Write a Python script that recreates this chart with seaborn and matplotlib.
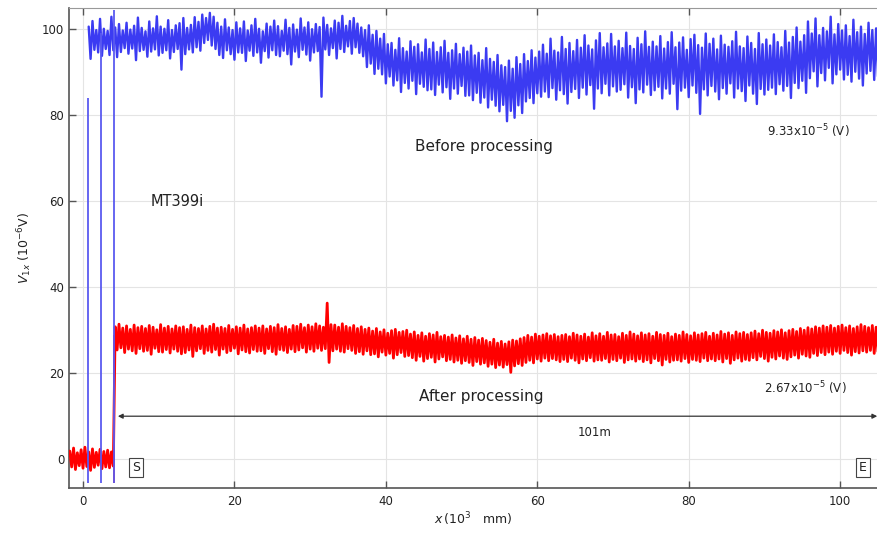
import matplotlib
matplotlib.use("Agg")
import matplotlib.pyplot as plt
import numpy as np
import pandas as pd
import seaborn as sns

# signal envelope (upper / lower tips, every 0.5 x 10^3 mm)
BLUE_X0 = 0.75
blue_hi = [
    100.6, 101.9, 99.8, 102.4, 100.1, 99.6, 102.9, 100.4, 101.2, 99.7,
    101.5, 99.9, 100.8, 102.7, 100.3, 99.5, 101.8, 100.2, 103.0, 100.6,
    100.1, 102.1, 99.8, 100.9, 101.4, 102.6, 100.3, 101.0, 102.8, 101.7,
    103.4, 102.6, 103.8, 102.9, 101.5, 100.6, 102.3, 100.4, 99.8, 101.6,
    100.2, 101.8, 99.7, 100.9, 102.4, 100.1, 99.5, 101.3, 100.6, 102.0,
    100.7, 99.6, 102.2, 100.3, 101.1, 99.9, 102.5, 100.4, 101.6, 100.0,
    101.2, 100.5, 102.7, 101.0, 100.2, 102.0, 101.5, 103.1, 100.8, 101.9,
    102.6, 101.3, 100.4, 99.8, 100.9, 98.7, 99.6, 97.8, 98.9, 96.5,
    96.8, 95.2, 97.9, 95.6, 94.8, 97.2, 95.9, 96.5, 94.6, 97.6,
    95.4, 96.9, 94.7, 95.8, 97.3, 94.5, 95.1, 96.6, 94.2, 95.7,
    94.8, 96.2, 93.9, 94.5, 92.8, 95.6, 93.1, 92.4, 94.0, 91.6,
    91.2, 92.7, 90.8, 93.5, 91.9, 94.2, 92.6, 95.1, 93.4, 94.8,
    96.4, 94.3, 97.8, 95.0, 94.6, 98.2, 95.4, 96.8, 94.9, 97.5,
    95.7, 98.6, 96.2, 95.3, 97.4, 99.1, 95.8, 96.7, 98.9, 96.0,
    97.3, 95.6, 99.2, 96.1, 95.4, 98.0, 96.5, 99.5, 95.9, 97.1,
    96.0, 98.4, 95.5, 97.0, 99.3, 95.8, 96.9, 98.1, 95.2, 97.7,
    98.7, 96.3, 95.7, 99.0, 96.6, 97.8, 95.3, 98.5, 96.4, 95.9,
    97.2, 99.4, 96.0, 95.6, 98.3, 96.8, 95.4, 99.1, 96.5, 97.6,
    96.2, 98.8, 97.0, 95.8, 99.6, 96.9, 98.2, 100.4, 97.1, 98.6,
    101.8, 99.0, 102.5, 98.6, 100.3, 99.5, 102.9, 98.8, 101.2, 99.7,
    100.9, 98.4, 102.2, 99.3, 100.6, 98.9, 101.5, 99.8, 100.2,
]
blue_lo = [
    93.1, 95.2, 94.6, 93.8, 95.4, 94.0, 95.1, 93.5, 94.7, 95.6,
    94.3, 95.5, 92.8, 94.9, 95.2, 93.6, 94.8, 95.3, 93.9, 94.5,
    95.1, 93.2, 94.7, 95.4, 90.6, 94.2, 95.3, 94.6, 95.8, 95.0,
    96.8, 97.5, 96.2, 95.4, 94.0, 93.3, 95.1, 94.2, 92.9, 94.6,
    94.5, 92.6, 95.0, 93.8, 94.6, 92.2, 94.9, 93.4, 95.1, 94.0,
    93.7, 95.0, 94.2, 91.8, 94.8, 93.5, 95.2, 94.1, 92.7, 94.6,
    94.9, 84.3, 95.3, 94.0, 95.6, 93.2, 95.4, 94.7, 96.0, 94.3,
    95.8, 94.5, 93.7, 91.2, 92.0, 89.6, 90.8, 89.5, 87.4, 89.0,
    86.9, 88.1, 85.4, 87.5, 86.2, 88.0, 84.9, 87.3, 86.6, 85.8,
    86.0, 84.7, 87.1, 85.3, 86.5, 83.8, 86.2, 85.0, 86.8, 84.5,
    84.6, 83.5, 85.2, 82.9, 84.1, 81.8, 83.6, 82.2, 80.9, 82.4,
    78.6, 81.0, 79.4, 82.3, 80.5, 83.2, 84.0, 82.8, 85.1, 84.3,
    85.5, 84.2, 86.3, 83.6, 85.8, 84.9, 82.7, 85.4, 86.1, 84.0,
    86.4, 84.8, 87.0, 81.5, 86.2, 85.1, 87.3, 84.6, 86.7, 85.5,
    85.9, 87.2, 84.1, 86.5, 82.8, 86.0, 85.3, 87.1, 84.7, 85.8,
    86.6, 83.9, 86.2, 85.0, 87.3, 81.4, 85.7, 86.4, 84.2, 86.9,
    85.2, 80.3, 86.0, 84.6, 86.8, 85.5, 83.7, 86.3, 85.0, 87.4,
    84.1, 86.2, 85.6, 83.3, 86.9, 85.0, 82.6, 86.1, 84.8, 85.9,
    86.4, 84.9, 87.2, 85.7, 86.8, 84.0, 87.5, 86.3, 88.0, 85.2,
    88.6, 90.2, 86.7, 89.8, 88.1, 91.0, 87.4, 89.5, 90.6, 88.3,
    89.4, 87.8, 90.1, 88.5, 86.9, 89.7, 90.3, 88.2, 89.0,
]

RED_X0 = -1.75
red_hi = [
    1.9, 2.6, 1.5, 2.2, 2.8, 1.7, 2.4, 1.6, 2.3, 1.8,
    2.1, 1.7, 30.8, 31.4, 30.5, 31.0, 30.2, 31.2, 30.6, 30.9,
    30.4, 31.1, 30.7, 30.1, 31.3, 30.5, 30.9, 30.3, 31.0, 30.6,
    30.8, 30.2, 31.2, 30.6, 30.4, 31.0, 30.3, 30.9, 31.4, 30.5,
    30.7, 30.4, 31.1, 30.2, 30.8, 30.5, 31.2, 30.3, 30.6, 31.0,
    30.5, 31.0, 30.3, 30.9, 30.6, 31.3, 30.4, 30.8, 30.2, 31.1,
    30.9, 31.4, 30.6, 31.2, 30.8, 31.5, 31.0, 30.7, 36.3, 31.3,
    31.2, 30.7, 31.5, 30.9, 30.6, 31.1, 30.4, 30.8, 30.2, 30.5,
    29.8, 30.4, 29.6, 30.1, 29.3, 29.9, 30.2, 29.5, 29.7, 30.0,
    29.1, 29.6, 28.8, 29.4, 28.6, 29.2, 28.9, 29.5, 28.5, 28.8,
    28.4, 28.9, 28.2, 28.7, 28.0, 28.6, 27.9, 28.3, 27.7, 28.1,
    27.6, 27.2, 27.9, 27.0, 27.4, 26.8, 27.3, 27.7, 27.5, 28.0,
    28.3, 28.8, 28.4, 29.1, 28.6, 28.9, 29.2, 28.7, 29.0, 28.5,
    28.8, 29.0, 28.5, 29.3, 28.9, 28.6, 29.1, 28.4, 29.4, 28.7,
    29.2, 28.6, 29.5, 28.9, 29.0, 28.5, 29.3, 28.8, 29.6, 29.1,
    28.7, 29.4, 28.9, 29.2, 28.6, 29.5, 29.0, 28.8, 29.3, 28.5,
    29.1, 28.8, 29.6, 29.0, 28.7, 29.4, 28.9, 29.2, 29.5, 28.6,
    29.3, 28.9, 29.7, 29.1, 29.4, 28.8, 29.6, 29.2, 29.5, 29.0,
    29.4, 29.8, 29.2, 30.0, 29.5, 29.3, 29.9, 29.6, 30.1, 29.4,
    29.9, 30.2, 29.7, 30.4, 30.0, 30.6, 30.3, 30.8, 30.5, 31.0,
    30.7, 31.1, 30.5, 30.9, 31.2, 30.6, 31.0, 30.4, 30.8, 31.3,
    30.9, 30.6, 31.1, 30.7,
]
red_lo = [
    -1.8, -2.4, -1.5, -2.1, -1.7, -2.6, -1.9, -1.4, -2.2, -1.8,
    -2.0, -1.6, 25.4, 25.9, 24.8, 25.6, 25.2, 24.6, 25.7, 25.1,
    25.3, 24.4, 25.8, 25.0, 24.9, 25.5, 24.7, 25.6, 25.1, 24.5,
    24.8, 25.4, 23.9, 25.2, 25.7, 24.6, 25.3, 24.9, 25.5, 24.2,
    25.6, 24.8, 25.2, 25.8, 24.5, 25.4, 25.0, 24.7, 25.5, 25.1,
    25.2, 24.6, 25.7, 25.0, 24.4, 25.5, 25.3, 24.8, 25.6, 25.0,
    25.4, 25.9, 24.9, 25.6, 25.1, 25.8, 25.3, 25.7, 22.5, 25.2,
    25.6, 25.1, 24.9, 25.7, 25.3, 24.6, 25.0, 24.4, 25.2, 24.3,
    24.5, 23.8, 24.9, 24.2, 24.6, 23.5, 24.3, 24.8, 23.9, 24.1,
    23.6, 23.0, 23.9, 22.8, 23.4, 23.7, 22.6, 23.3, 23.8, 22.9,
    23.2, 22.6, 23.0, 22.3, 22.9, 22.5, 21.8, 22.7, 22.1, 22.4,
    21.6, 22.1, 21.3, 21.9, 21.4, 22.0, 20.2, 21.7, 22.2, 21.8,
    22.5, 23.0, 22.4, 23.3, 22.8, 23.5, 22.9, 23.4, 23.1, 22.7,
    23.2, 22.7, 23.5, 23.0, 22.4, 23.3, 22.9, 23.6, 22.8, 23.1,
    23.0, 23.4, 22.6, 23.2, 22.9, 23.5, 22.5, 23.1, 23.3, 22.8,
    23.3, 22.7, 23.1, 22.4, 23.4, 22.9, 21.9, 23.2, 22.6, 23.0,
    23.1, 22.8, 23.4, 22.5, 23.2, 23.0, 22.7, 23.5, 22.9, 23.3,
    22.9, 23.3, 22.6, 23.4, 22.3, 23.1, 23.5, 22.8, 23.2, 23.0,
    23.6, 23.1, 23.9, 23.4, 22.8, 23.7, 23.3, 24.0, 23.5, 23.2,
    23.8, 24.2, 23.5, 24.4, 24.0, 23.7, 24.6, 24.1, 24.8, 24.3,
    24.9, 24.4, 25.1, 24.6, 25.3, 24.8, 24.2, 25.0, 24.7, 25.2,
    24.9, 25.3, 24.6, 25.0,
]

# dropouts at the start of the run (blue) and the start jump (red)
blue_drop_x = [0.66, 2.4, 4.1]
blue_drop_lo = [-5.5, -5.5, -5.5]
blue_drop_hi = [84.0, 99.0, 104.5]
red_jump_x = [4.1]
red_jump_lo = [-5.5]
red_jump_hi = [29.0]

BLUE = "#3b3bf2"
RED = "#ff0000"

sns.set_style("ticks")
plt.rcParams["font.family"] = ["DejaVu Sans"]


def trace(x0, hi, lo):
    x = x0 + 0.5 * np.arange(len(hi))
    zx = np.column_stack([x, x + 0.25]).ravel()
    zy = np.column_stack([hi, lo]).ravel()
    return pd.DataFrame({"x": zx, "y": zy})


fig = plt.figure(figsize=(8.78, 5.38), dpi=100)
ax = fig.add_axes([0.0786, 0.0929, 0.9214, 0.892])

ax.grid(True, color="#e4e4e4", lw=0.8, zorder=0)

df_blue = trace(BLUE_X0, blue_hi, blue_lo)
df_red = trace(RED_X0, red_hi, red_lo)
sns.lineplot(data=df_blue, x="x", y="y", sort=False, estimator=None,
             color=BLUE, lw=1.7, ax=ax, zorder=2)
sns.lineplot(data=df_red, x="x", y="y", sort=False, estimator=None,
             color=RED, lw=2.0, ax=ax, zorder=3)
ax.vlines(red_jump_x, red_jump_lo, red_jump_hi, color=RED, lw=1.2, zorder=3)
ax.vlines(blue_drop_x, blue_drop_lo, blue_drop_hi, color="#5a5af0",
          lw=1.3, zorder=4)

ax.set_xlim(-1.85, 105)
ax.set_ylim(-6.7, 104.9)
ax.set_xticks([0, 20, 40, 60, 80, 100])
ax.set_yticks([0, 20, 40, 60, 80, 100])
ax.tick_params(axis="both", direction="in", length=5, width=1,
               colors="#555555", labelcolor="#222222", labelsize=8.5,
               top=True, right=False)
ax.tick_params(axis="x", pad=5)
for s in ["left", "bottom"]:
    ax.spines[s].set_color("#555555")
    ax.spines[s].set_linewidth(1.2)
ax.spines["top"].set_color("#999999")
ax.spines["right"].set_visible(False)

ax.set_xlabel(r"$x\,$(10$^3$   mm)", fontsize=9, color="#222222", labelpad=2)
ax.set_ylabel(r"$V_{1x}$ (10$^{-6}$V)", fontsize=9, color="#222222", labelpad=6)

txt = dict(color="#222222", ha="center", va="center")
ax.text(52.9, 72.8, "Before processing", fontsize=11, **txt)
ax.text(52.6, 14.6, "After processing", fontsize=11, **txt)
ax.text(12.4, 60.0, "MT399i", fontsize=10.5, **txt)
ax.text(95.8, 76.3, r"9.33x10$^{-5}$ (V)", fontsize=8.5, **txt)
ax.text(95.4, 16.5, r"2.67x10$^{-5}$ (V)", fontsize=8.5, **txt)
ax.text(67.6, 6.3, "101m", fontsize=8.5, **txt)

box = dict(boxstyle="square,pad=0.25", fc="white", ec="#444444", lw=0.8)
ax.text(7.0, -2.0, "S", fontsize=9, bbox=box, **txt)
ax.text(103.0, -2.0, "E", fontsize=9, bbox=box, **txt)

ax.annotate("", xy=(4.6, 10.0), xytext=(104.9, 10.0),
            arrowprops=dict(arrowstyle="<|-|>", lw=0.9, color="#333333",
                            mutation_scale=7, shrinkA=0, shrinkB=0))

fig.savefig("out.png", dpi=100)
